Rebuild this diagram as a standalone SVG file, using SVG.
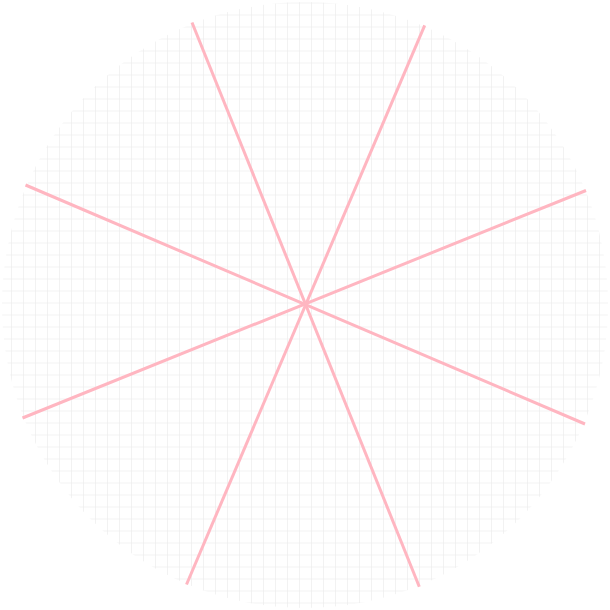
<svg xmlns="http://www.w3.org/2000/svg" width="610" height="610" viewBox="0 0 610 610">
  <defs>
    <pattern id="grid" patternUnits="userSpaceOnUse" x="11" y="2.5" width="12" height="12">
      <path d="M0 0V12M0 0H12" fill="none" stroke="#efefef" stroke-width="1.6"/>
    </pattern>
    <clipPath id="disc">
      <circle cx="305" cy="305" r="303"/>
    </clipPath>
    <style>
      .ray { stroke: #ffb6c1; stroke-width: 3; stroke-linecap: butt; fill: none; }
    </style>
  </defs>
  <rect width="610" height="610" fill="#ffffff"/>
  <g id="grid-disc">
    <rect x="0" y="0" width="610" height="610" fill="url(#grid)" clip-path="url(#disc)"/>
  </g>
  <g id="connectors">
    <line class="ray" x1="192" y1="22.5" x2="419.3" y2="586.7"/>
    <line class="ray" x1="424.7" y1="25.3" x2="186.5" y2="584.5"/>
    <line class="ray" x1="25.5" y1="185" x2="585" y2="424"/>
    <line class="ray" x1="586" y1="190.5" x2="22.5" y2="418"/>
  </g>
</svg>
